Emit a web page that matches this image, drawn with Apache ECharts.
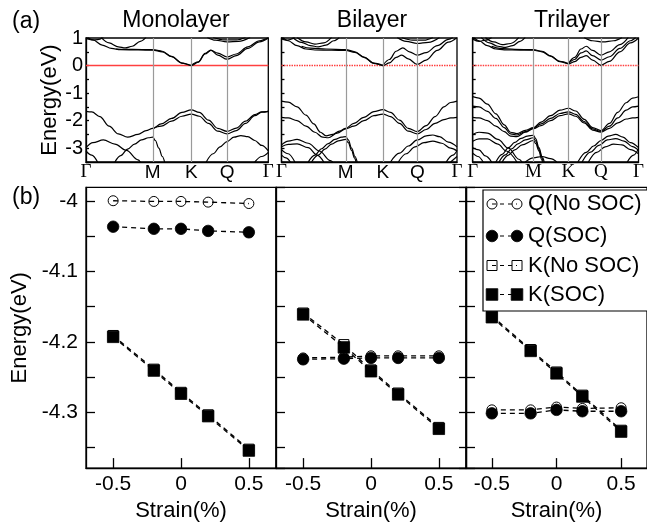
<!DOCTYPE html>
<html><head><meta charset="utf-8">
<script src="https://cdn.jsdelivr.net/npm/echarts@6/dist/echarts.min.js"></script>
<style>html,body{margin:0;padding:0;background:#fff}#c{width:647px;height:527px}</style>
</head><body><div id="c"></div>
<script>
// ---------- (a) band structures: k-path distance vs energy (eV) ----------
const kTicks = [0, 0.577, 0.911, 1.22, 1.577];
const kLabels = ['Γ', 'M', 'K', 'Q', 'Γ'];
const fermiLevel = [[0, 0], [1.577, 0]];
const panelTitles = ['Monolayer', 'Bilayer', 'Trilayer'];

const monoBands = [
  [[0,1.08],[0.06,0.93],[0.14,0.74],[0.22,0.62],[0.3,0.575],[0.45,0.565],[0.577,0.56],[0.66,0.5],[0.74,0.32],[0.83,0.09],[0.911,0.0],[0.97,0.12],[1.03,0.42],[1.08,0.55],[1.14,0.45],[1.22,0.31],[1.3,0.42],[1.4,0.68],[1.5,0.9],[1.577,1.02]],
  [[0.911,0.0],[0.97,0.13],[1.03,0.44],[1.08,0.56],[1.14,0.38],[1.22,0.23],[1.3,0.36],[1.4,0.62],[1.5,0.86],[1.577,1.0]],
  [[0.26,0.6],[0.4,0.585],[0.577,0.58],[0.66,0.52],[0.74,0.33],[0.83,0.09],[0.911,0.0]],
  [[0.13,1.02],[0.2,0.82],[0.28,0.68],[0.34,0.64],[0.4,0.7],[0.47,0.88],[0.52,1.02]],
  [[0,0.98],[0.05,0.93],[0.1,0.94],[0.15,1.02]],
  [[1.05,1.02],[1.12,0.92],[1.22,0.86],[1.32,0.88],[1.42,1.02]],
  [[1.1,1.02],[1.2,0.93],[1.3,0.93],[1.38,1.02]],
  [[0,-1.66],[0.05,-1.68],[0.12,-1.85],[0.2,-2.2],[0.28,-2.48],[0.36,-2.6],[0.45,-2.5],[0.52,-2.36],[0.577,-2.28],[0.65,-2.12],[0.74,-1.92],[0.83,-1.7],[0.911,-1.61],[0.98,-1.7],[1.06,-1.98],[1.14,-2.28],[1.22,-2.39],[1.3,-2.27],[1.38,-2.02],[1.46,-1.78],[1.52,-1.68],[1.577,-1.66]],
  [[0.577,-2.29],[0.65,-2.2],[0.74,-2.02],[0.83,-1.84],[0.911,-1.76],[0.98,-1.84],[1.06,-2.1],[1.14,-2.38],[1.22,-2.48],[1.3,-2.36],[1.38,-2.1],[1.46,-1.82],[1.52,-1.69],[1.577,-1.66]],
  [[0,-2.98],[0.06,-2.8],[0.15,-2.7],[0.25,-2.85],[0.35,-3.08],[0.45,-3.42],[0.47,-3.5]],
  [[0,-3.1],[0.05,-3.25],[0.1,-3.5]],
  [[0.25,-3.5],[0.3,-3.27],[0.36,-3.03],[0.42,-2.85],[0.48,-2.7],[0.54,-2.62],[0.577,-2.6],[0.6,-2.72],[0.63,-3.0],[0.66,-3.3],[0.68,-3.5]],
  [[1.04,-3.5],[1.1,-3.2],[1.16,-2.95],[1.22,-2.76],[1.28,-2.6],[1.34,-2.54],[1.4,-2.58],[1.46,-2.72],[1.52,-2.9],[1.577,-3.1]],
  [[1.46,-3.5],[1.52,-3.3],[1.577,-3.15]]
];

const biBands = [
  [[0,1.06],[0.06,0.9],[0.14,0.72],[0.22,0.6],[0.3,0.565],[0.45,0.555],[0.577,0.55],[0.66,0.48],[0.74,0.3],[0.83,0.08],[0.911,0.0],[0.97,0.1],[1.03,0.3],[1.08,0.38],[1.14,0.24],[1.22,0.04],[1.3,0.2],[1.4,0.55],[1.5,0.85],[1.577,1.02]],
  [[0.911,0.01],[0.97,0.22],[1.03,0.52],[1.09,0.64],[1.15,0.5],[1.22,0.38],[1.3,0.47],[1.4,0.72],[1.5,0.95],[1.54,1.02]],
  [[0.18,0.7],[0.26,0.63],[0.4,0.6],[0.577,0.58],[0.66,0.5],[0.74,0.31],[0.83,0.09],[0.911,0.01]],
  [[0.1,1.02],[0.18,0.84],[0.26,0.72],[0.33,0.68],[0.4,0.74],[0.47,0.9],[0.52,1.02]],
  [[0.14,1.02],[0.22,0.86],[0.3,0.78],[0.38,0.82],[0.45,1.02]],
  [[0,0.97],[0.05,0.92],[0.12,1.02]],
  [[1.04,1.02],[1.12,0.88],[1.22,0.8],[1.32,0.84],[1.42,1.02]],
  [[1.08,1.02],[1.18,0.92],[1.28,0.92],[1.36,1.02]],
  [[0,-1.29],[0.06,-1.33],[0.14,-1.5],[0.22,-1.8],[0.29,-2.12],[0.35,-2.42],[0.4,-2.55],[0.46,-2.5],[0.52,-2.38],[0.577,-2.28],[0.65,-2.1],[0.74,-1.88],[0.83,-1.67],[0.911,-1.6],[0.98,-1.7],[1.06,-1.98],[1.14,-2.28],[1.22,-2.4],[1.3,-2.18],[1.38,-1.85],[1.46,-1.5],[1.52,-1.34],[1.577,-1.29]],
  [[0,-1.88],[0.06,-1.9],[0.14,-2.0],[0.22,-2.2],[0.3,-2.42],[0.37,-2.6],[0.42,-2.62],[0.5,-2.45],[0.577,-2.3],[0.65,-2.2],[0.74,-2.0],[0.83,-1.82],[0.911,-1.76],[0.98,-1.85],[1.06,-2.1],[1.14,-2.38],[1.22,-2.48],[1.3,-2.32],[1.38,-2.1],[1.46,-1.96],[1.52,-1.9],[1.577,-1.88]],
  [[0,-2.88],[0.06,-2.74],[0.14,-2.68],[0.24,-2.82],[0.34,-3.1],[0.44,-3.45],[0.46,-3.5]],
  [[0,-2.95],[0.06,-2.86],[0.14,-2.84],[0.24,-2.98],[0.32,-3.25],[0.38,-3.5]],
  [[0,-3.05],[0.06,-3.2],[0.12,-3.5]],
  [[0,-3.25],[0.04,-3.35],[0.08,-3.5]],
  [[0.24,-3.5],[0.3,-3.25],[0.36,-3.02],[0.42,-2.83],[0.48,-2.68],[0.54,-2.6],[0.577,-2.58],[0.6,-2.7],[0.63,-3.0],[0.66,-3.3],[0.68,-3.5]],
  [[0.27,-3.5],[0.33,-3.25],[0.39,-3.03],[0.45,-2.85],[0.51,-2.73],[0.577,-2.68],[0.6,-2.8],[0.63,-3.08],[0.655,-3.35],[0.67,-3.5]],
  [[0.98,-3.5],[1.06,-3.18],[1.14,-2.92],[1.22,-2.7],[1.3,-2.55],[1.36,-2.52],[1.42,-2.58],[1.5,-2.78],[1.577,-2.95]],
  [[1.05,-3.5],[1.12,-3.2],[1.2,-2.95],[1.28,-2.8],[1.36,-2.74],[1.44,-2.82],[1.52,-3.0],[1.577,-3.1]],
  [[1.48,-3.5],[1.54,-3.25],[1.577,-3.08]],
  [[1.52,-3.5],[1.577,-3.3]]
];

const triBands = [
  [[0,1.06],[0.06,0.9],[0.14,0.72],[0.22,0.6],[0.3,0.57],[0.45,0.56],[0.577,0.555],[0.66,0.5],[0.74,0.34],[0.83,0.14],[0.911,0.06],[0.97,0.14],[1.03,0.3],[1.08,0.36],[1.14,0.2],[1.22,0.01],[1.3,0.15],[1.4,0.5],[1.5,0.82],[1.577,1.0]],
  [[0.911,0.07],[0.97,0.22],[1.03,0.46],[1.08,0.53],[1.14,0.36],[1.22,0.2],[1.3,0.32],[1.4,0.62],[1.5,0.9],[1.55,1.02]],
  [[0.911,0.08],[0.97,0.3],[1.03,0.6],[1.08,0.7],[1.14,0.55],[1.22,0.38],[1.3,0.5],[1.4,0.76],[1.48,1.02]],
  [[0.18,0.7],[0.26,0.62],[0.4,0.59],[0.577,0.575],[0.66,0.52],[0.74,0.35],[0.83,0.15],[0.911,0.07]],
  [[0.08,1.02],[0.16,0.82],[0.24,0.7],[0.31,0.66],[0.38,0.72],[0.45,0.88],[0.5,1.02]],
  [[0.12,1.02],[0.2,0.86],[0.28,0.76],[0.36,0.8],[0.44,1.02]],
  [[0,0.96],[0.06,0.88],[0.12,0.92],[0.18,1.02]],
  [[1.06,1.02],[1.14,0.9],[1.24,0.86],[1.34,0.9],[1.42,1.02]],
  [[0,-1.13],[0.06,-1.18],[0.14,-1.4],[0.22,-1.75],[0.3,-2.15],[0.36,-2.42],[0.42,-2.47],[0.5,-2.35],[0.577,-2.25],[0.65,-2.05],[0.74,-1.82],[0.83,-1.62],[0.911,-1.55],[0.98,-1.65],[1.06,-1.95],[1.14,-2.25],[1.22,-2.36],[1.3,-2.1],[1.38,-1.7],[1.46,-1.35],[1.52,-1.18],[1.577,-1.13]],
  [[0,-1.47],[0.06,-1.5],[0.14,-1.66],[0.22,-1.92],[0.3,-2.25],[0.36,-2.48],[0.42,-2.52],[0.5,-2.4],[0.577,-2.27],[0.65,-2.12],[0.74,-1.92],[0.83,-1.74],[0.911,-1.68],[0.98,-1.77],[1.06,-2.03],[1.14,-2.3],[1.22,-2.39],[1.3,-2.2],[1.38,-1.9],[1.46,-1.62],[1.52,-1.5],[1.577,-1.47]],
  [[0,-1.88],[0.06,-1.9],[0.14,-2.0],[0.22,-2.2],[0.3,-2.4],[0.36,-2.56],[0.42,-2.58],[0.5,-2.42],[0.577,-2.29],[0.65,-2.18],[0.74,-2.0],[0.83,-1.82],[0.911,-1.75],[0.98,-1.84],[1.06,-2.08],[1.14,-2.34],[1.22,-2.42],[1.3,-2.28],[1.38,-2.08],[1.46,-1.94],[1.52,-1.9],[1.577,-1.88]],
  [[0,-2.5],[0.06,-2.42],[0.14,-2.45],[0.24,-2.68],[0.34,-3.0],[0.44,-3.4],[0.47,-3.5]],
  [[0,-2.75],[0.06,-2.66],[0.14,-2.66],[0.24,-2.85],[0.32,-3.1],[0.42,-3.5]],
  [[0,-2.98],[0.06,-3.06],[0.12,-3.28],[0.18,-3.5]],
  [[0,-3.18],[0.05,-3.3],[0.1,-3.5]],
  [[0.22,-3.5],[0.28,-3.22],[0.34,-2.98],[0.4,-2.79],[0.46,-2.64],[0.52,-2.56],[0.577,-2.53],[0.6,-2.66],[0.63,-2.98],[0.66,-3.3],[0.68,-3.5]],
  [[0.25,-3.5],[0.31,-3.24],[0.37,-3.02],[0.43,-2.84],[0.5,-2.7],[0.577,-2.62],[0.6,-2.74],[0.63,-3.04],[0.66,-3.35],[0.67,-3.5]],
  [[0.28,-3.5],[0.34,-3.25],[0.4,-3.06],[0.47,-2.88],[0.577,-2.72],[0.6,-2.83],[0.63,-3.1],[0.655,-3.4],[0.665,-3.5]],
  [[0.5,-3.5],[0.577,-3.35],[0.66,-3.3],[0.74,-3.38],[0.8,-3.5]],
  [[1.0,-3.5],[1.08,-3.15],[1.15,-2.92],[1.22,-2.72],[1.29,-2.56],[1.36,-2.5],[1.43,-2.6],[1.5,-2.8],[1.577,-2.98]],
  [[1.04,-3.5],[1.12,-3.14],[1.2,-2.9],[1.28,-2.7],[1.36,-2.65],[1.44,-2.74],[1.52,-2.94],[1.577,-3.08]],
  [[1.1,-3.5],[1.18,-3.15],[1.26,-2.95],[1.34,-2.85],[1.42,-2.88],[1.5,-3.05],[1.577,-3.2]],
  [[1.47,-3.5],[1.53,-3.25],[1.577,-3.02]]
];

// ---------- (b) band edge energies vs strain ----------
const strain = [-0.5, -0.2, 0, 0.2, 0.5];
const seriesNames = ['Q(No SOC)', 'Q(SOC)', 'K(No SOC)', 'K(SOC)'];

const monoQnoSOC = [-3.999, -4.000, -4.000, -4.001, -4.003];
const monoQSOC   = [-4.036, -4.039, -4.039, -4.042, -4.044];
const monoKnoSOC = [-4.191, -4.239, -4.272, -4.304, -4.353];
const monoKSOC   = [-4.193, -4.241, -4.274, -4.306, -4.355];

const biQnoSOC = [-4.223, -4.222, -4.220, -4.220, -4.220];
const biQSOC   = [-4.225, -4.224, -4.223, -4.223, -4.223];
const biKnoSOC = [-4.159, -4.204, -4.240, -4.273, -4.322];
const biKSOC   = [-4.161, -4.208, -4.242, -4.275, -4.324];

const triQnoSOC = [-4.297, -4.297, -4.293, -4.295, -4.294];
const triQSOC   = [-4.302, -4.302, -4.297, -4.299, -4.299];
const triKnoSOC = [-4.163, -4.211, -4.243, -4.276, -4.326];
const triKSOC   = [-4.165, -4.213, -4.245, -4.278, -4.328];

// ---------- layout ----------
const SANS = 'Liberation Sans';
const SERIF = 'Liberation Serif';
const aGrids = [
  {left: 86, top: 38, width: 182.3, height: 124},
  {left: 281.5, top: 38, width: 175.5, height: 124},
  {left: 472.7, top: 38, width: 176.3, height: 124}
];
const bGrids = [
  {left: 86, top: 187.4, width: 190, height: 285.7},
  {left: 276, top: 187.4, width: 190, height: 285.7},
  {left: 466, top: 187.4, width: 190, height: 285.7}
];
const gridStyle = {show: true, borderColor: '#000', borderWidth: 1.3, backgroundColor: 'rgba(0,0,0,0)', containLabel: false};
const grid = aGrids.concat(bGrids).map(g => Object.assign({}, gridStyle, g));

const xAxis = [], yAxis = [], series = [];
const axLine = () => ({show: true, onZero: false, lineStyle: {color: '#000', width: 1.3}});
const tick = (len) => ({show: true, inside: true, length: len, lineStyle: {color: '#000', width: 1.3}});
const isMult = (v, step) => Math.abs(v / step - Math.round(v / step)) < 1e-6;

function kName(v){
  let best = 0;
  kTicks.forEach((t, i) => { if (Math.abs(t - v) < Math.abs(kTicks[best] - v)) best = i; });
  return kLabels[best];
}

// band panels: x/y axes 0..2
[monoBands, biBands, triBands].forEach((bands, p) => {
  const serifAll = (p === 2);
  xAxis.push({
    type: 'value', gridIndex: p, min: 0, max: 1.577,
    axisLine: axLine(), splitLine: {show: false}, axisTick: {show: false},
    axisLabel: {
      show: true, customValues: kTicks, margin: 1,
      color: '#000', fontSize: 19, fontFamily: serifAll ? SERIF : SANS,
      formatter: v => { const n = kName(v); return n === 'Γ' ? '{g|Γ}' : n; },
      rich: {g: {fontFamily: SERIF, fontSize: 19, color: '#000'}}
    }
  });
  yAxis.push({
    type: 'value', gridIndex: p, min: -3.5, max: 1, interval: 0.5,
    axisLine: axLine(), splitLine: {show: false},
    axisTick: tick(3),
    axisLabel: {
      show: p === 0, margin: 3, color: '#000', fontSize: 20, fontFamily: SANS,
      formatter: v => isMult(v, 1) ? String(Math.round(v)) : ''
    },
    name: p === 0 ? 'Energy(eV)' : '', nameLocation: 'middle', nameGap: 25,
    nameTextStyle: {color: '#000', fontSize: 22, fontFamily: SANS}
  });
  series.push({
    type: 'line', xAxisIndex: p, yAxisIndex: p, data: fermiLevel, symbol: 'none', silent: true,
    color: '#ff4040',
    lineStyle: {color: '#ff4040', width: 1.6, type: p === 0 ? 'solid' : [1.5, 1]}, z: 2
  });
  bands.forEach((b, i) => {
    const s = {
      type: 'line', xAxisIndex: p, yAxisIndex: p, data: b,
      smooth: 0.35, smoothMonotone: 'x', symbol: 'none', silent: true, clip: true,
      lineStyle: {color: '#000', width: 1.2}, z: 3
    };
    if (i === 0) {
      s.markLine = {
        silent: true, symbol: 'none', label: {show: false}, animation: false,
        lineStyle: {color: '#9a9a9a', width: 1.2, type: 'solid'},
        data: [{xAxis: kTicks[1]}, {xAxis: kTicks[2]}, {xAxis: kTicks[3]}]
      };
    }
    series.push(s);
  });
});

// strain panels: x axes 3..5, left y axes 3..5, right y axis 6 (bilayer)
const strainData = [
  [monoQnoSOC, monoQSOC, monoKnoSOC, monoKSOC],
  [biQnoSOC, biQSOC, biKnoSOC, biKSOC],
  [triQnoSOC, triQSOC, triKnoSOC, triKSOC]
];
const markerDefs = [
  {symbol: 'circle', size: 10, hollow: true},
  {symbol: 'circle', size: 11.5, hollow: false},
  {symbol: 'rect', size: 10, hollow: true},
  {symbol: 'rect', size: 11.5, hollow: false}
];
strainData.forEach((sets, p) => {
  xAxis.push({
    type: 'value', gridIndex: 3 + p, min: -0.7, max: 0.7, splitNumber: 3,
    axisLine: axLine(), splitLine: {show: false},
    axisTick: tick(10),
    axisLabel: {show: true, showMinLabel: false, showMaxLabel: false, margin: 6, color: '#000', fontSize: 21, fontFamily: SANS,
      formatter: v => isMult(v, 0.5) ? String(Math.round(v * 10) / 10) : ''},
    name: 'Strain(%)', nameLocation: 'middle', nameGap: 27,
    nameTextStyle: {color: '#000', fontSize: 22, fontFamily: SANS}
  });
});
strainData.forEach((sets, p) => {
  yAxis.push({
    type: 'value', gridIndex: 3 + p, min: -4.38, max: -3.98, splitNumber: 8, position: 'left',
    axisLine: axLine(), splitLine: {show: false},
    axisTick: tick(9),
    axisLabel: {show: p === 0, showMinLabel: false, showMaxLabel: false, margin: 8, color: '#000', fontSize: 21, fontFamily: SANS,
      formatter: v => isMult(v, 0.1) ? String(Math.round(v * 10) / 10) : ''},
    name: p === 0 ? 'Energy(eV)' : '', nameLocation: 'middle', nameGap: 55,
    nameTextStyle: {color: '#000', fontSize: 22, fontFamily: SANS}
  });
});
yAxis.push({
  type: 'value', gridIndex: 4, min: -4.38, max: -3.98, splitNumber: 8, position: 'right',
  axisLine: axLine(), splitLine: {show: false}, axisLabel: {show: false},
  axisTick: tick(7)
});
strainData.forEach((sets, p) => {
  sets.forEach((vals, j) => {
    const m = markerDefs[j];
    series.push({
      name: seriesNames[j], type: 'line', xAxisIndex: 3 + p, yAxisIndex: 3 + p,
      data: strain.map((x, i) => [x, vals[i]]),
      symbol: m.symbol, symbolSize: m.size, showSymbol: true, silent: true,
      lineStyle: {color: '#000', width: 1.3, type: [5, 4]},
      itemStyle: m.hollow ? {color: 'rgba(0,0,0,0)', borderColor: '#000', borderWidth: 1} : {color: '#000', borderColor: '#000', borderWidth: 0.8},
      z: 4 + j
    });
  });
});

// legend (drawn as graphic elements)
const legendRows = [
  {y: 204, sym: 'circle', hollow: true, text: seriesNames[0]},
  {y: 236, sym: 'circle', hollow: false, text: seriesNames[1]},
  {y: 265.5, sym: 'rect', hollow: true, text: seriesNames[2]},
  {y: 294.5, sym: 'rect', hollow: false, text: seriesNames[3]}
];
const txt = (x, y, t, size, align) => ({type: 'text', z: 100, style: {x: x, y: y, text: t, font: size + 'px "Liberation Sans"', fill: '#000', textAlign: align || 'left', textVerticalAlign: 'middle'}});
const graphic = [
  {type: 'rect', z: 100, shape: {x: 483, y: 190, width: 200, height: 121}, style: {fill: '#fff', stroke: '#000', lineWidth: 1.2}},
  txt(12, 22, '(a)', 23), txt(12, 198, '(b)', 23),
  txt(176, 21, panelTitles[0], 23, 'center'),
  txt(372, 21, panelTitles[1], 23, 'center'),
  txt(572, 21, panelTitles[2], 23, 'center')
];
legendRows.forEach(r => {
  graphic.push({type: 'line', z: 101, shape: {x1: 492, y1: r.y, x2: 517, y2: r.y}, style: {stroke: '#000', lineWidth: 1.2, lineDash: [4, 4]}});
  [492, 517].forEach(cx => {
    const style = r.hollow ? {fill: 'none', stroke: '#000', lineWidth: 1} : {fill: '#000', stroke: '#000', lineWidth: 0.8};
    if (r.sym === 'circle') {
      graphic.push({type: 'circle', z: 102, shape: {cx: cx, cy: r.y, r: r.hollow ? 5 : 5.8}, style: style});
    } else {
      const h = r.hollow ? 5 : 5.8;
      graphic.push({type: 'rect', z: 102, shape: {x: cx - h, y: r.y - h, width: 2 * h, height: 2 * h}, style: style});
    }
  });
  graphic.push(Object.assign(txt(528, r.y, r.text, 22), {z: 102}));
});

const chart = echarts.init(document.getElementById('c'), null, {renderer: 'canvas'});
chart.setOption({
  animation: false,
  backgroundColor: '#fff',
  grid: grid, xAxis: xAxis, yAxis: yAxis, series: series, graphic: graphic
});
</script>
</body></html>
